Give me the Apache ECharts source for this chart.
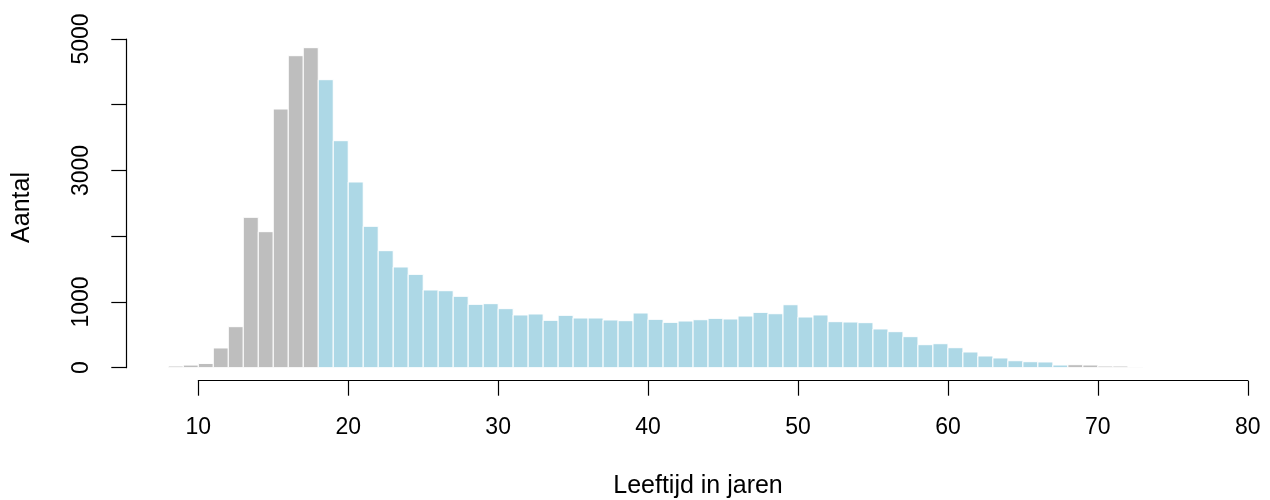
<!DOCTYPE html>
<html>
<head>
<meta charset="utf-8">
<script src="https://cdn.jsdelivr.net/npm/echarts@6/dist/echarts.min.js"></script>
<style>
html,body{margin:0;padding:0;background:#fff;}
#chart{width:1270px;height:500px;}
</style>
</head>
<body>
<div id="chart"></div>
<script>
// Data: age (years, bin [age, age+1)) and count
const ages = [8,9,10,11,12,13,14,15,16,17,18,19,20,21,22,23,24,25,26,27,28,29,30,31,32,33,34,35,36,37,38,39,40,41,42,43,44,45,46,47,48,49,50,51,52,53,54,55,56,57,58,59,60,61,62,63,64,65,66,67,68,69,70,71,72];
const counts = [25,40,65,300,624,2288,2069,3935,4746,4868,4381,3453,2825,2151,1780,1532,1420,1182,1171,1086,964,974,898,802,817,721,797,756,756,726,715,832,736,690,710,730,751,741,786,842,821,958,771,802,700,695,685,589,548,472,350,365,304,239,178,148,106,91,87,41,46,41,25,25,10];
const xTicks = [10,20,30,40,50,60,70,80];
const yTicks = [0,1000,2000,3000,4000,5000];
const yLabelsShown = [0,1000,3000,5000];
const xTitle = 'Leeftijd in jaren';
const yTitle = 'Aantal';

const GRAY = '#bebebe', BLUE = '#add8e6';
const font = 'Liberation Sans, Arial, Helvetica, sans-serif';

const data = ages.map((a, i) => [a, counts[i]]);

const chart = echarts.init(document.getElementById('chart'), null, {renderer: 'canvas'});
chart.setOption({
  animation: false,
  backgroundColor: '#ffffff',
  grid: {left: 198.3, right: 22.2, top: 39, bottom: 132.3, containLabel: false},
  xAxis: {
    type: 'value', min: xTicks[0], max: xTicks[xTicks.length - 1], interval: 10,
    offset: 13,
    axisLine: {show: true, onZero: false, lineStyle: {color: '#000', width: 1.2}},
    axisTick: {show: true, length: 15, lineStyle: {color: '#000', width: 1.2}},
    axisLabel: {color: '#000', fontFamily: font, fontSize: 23, margin: 35},
    splitLine: {show: false}
  },
  yAxis: {
    type: 'value', min: yTicks[0], max: yTicks[yTicks.length - 1], interval: 1000,
    offset: 72,
    axisLine: {show: true, onZero: false, lineStyle: {color: '#000', width: 1.2}},
    axisTick: {show: true, length: 15, lineStyle: {color: '#000', width: 1.2}},
    axisLabel: {
      color: '#000', fontFamily: font, fontSize: 23, rotate: 90, margin: 33,
      formatter: v => yLabelsShown.indexOf(v) >= 0 ? String(v) : ''
    },
    splitLine: {show: false}
  },
  graphic: [
    {type: 'text', x: 698, y: 486, style: {text: xTitle, font: '25px ' + font, fill: '#000', textAlign: 'center', textVerticalAlign: 'middle'}},
    {type: 'text', rotation: Math.PI / 2, x: 22, y: 207.5, style: {text: yTitle, font: '25px ' + font, fill: '#000', textAlign: 'center', textVerticalAlign: 'middle'}}
  ],
  series: [{
    type: 'custom',
    clip: false,
    data: data,
    encode: {x: 0, y: 1},
    renderItem: function (params, api) {
      const a = api.value(0), v = api.value(1);
      const p0 = api.coord([a, v]);
      const p1 = api.coord([a + 1, 0]);
      const col = (a < 18 || a >= 68) ? GRAY : BLUE;
      return {
        type: 'rect',
        shape: {x: p0[0], y: p0[1], width: p1[0] - p0[0], height: p1[1] - p0[1]},
        style: {fill: col, stroke: '#ffffff', lineWidth: 1}
      };
    }
  }]
});
</script>
</body>
</html>
